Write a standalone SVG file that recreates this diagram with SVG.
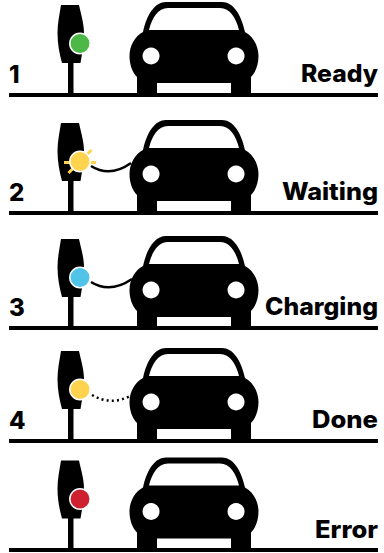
<svg xmlns="http://www.w3.org/2000/svg" width="384" height="553" viewBox="0 0 384 553">
<style>
.t{font-family:"Inter","Liberation Sans",sans-serif;font-weight:800;font-size:24px;fill:#000}
.l{fill:#000}
.d{stroke:#fff;stroke-width:1.5}
.c{fill:none;stroke:#000;stroke-width:2.5}
.r{stroke:#ffd34e;stroke-width:3;fill:none}
</style>
<defs>
<g id="station">
<path d="M61 5H79C81 14 84 24 84 33C84 44 82 54 80.500 63H62C59.500 54 57.500 44 57.500 33C57.500 24 59.500 14 61 5Z" fill="#000"/>
<rect x="68" y="62" width="5.500" height="32" fill="#000"/>
<path fill-rule="evenodd" fill="#000" d="M166 2H222C233 2 241 14 245 32C253 36 258.500 46 258.500 56C258.500 64 256 72 251 77V94H137V77C132 72 129.500 64 129.500 56C129.500 46 135 36 143 32C147 14 155 2 166 2ZM168 8C158 8 152 18 149 30H239C236 18 230 8 220 8ZM157 83V93H231V83ZM151 47.500A8.500 8.500 0 1 0 151.100 47.500ZM236 47.500A8.500 8.500 0 1 0 236.100 47.500Z"/>
</g>
</defs>
<g id="connectors">
<path class="c" d="M91 166Q110 178 131 163"/>
<path class="c" d="M91 282Q110 294 132 279"/>
<path class="c" d="M92 395Q111 406 130 396" stroke-dasharray="2 3.200"/>
</g>
<g id="row1"><use href="#station"/><rect class="l" x="9" y="93" width="369" height="4"/><circle class="d" cx="80" cy="43.500" r="10.200" fill="#4db848"/><text class="t" x="9" y="83">1</text><text class="t" x="301" y="82" textLength="77" lengthAdjust="spacingAndGlyphs">Ready</text></g>
<g id="row2"><use href="#station" y="118"/><rect class="l" x="9" y="211" width="369" height="4"/><path class="r" d="M64 162.500H96M68.500 173L91.500 150"/><circle class="d" cx="80" cy="161.500" r="10.200" fill="#ffd34e"/><text class="t" x="9" y="201">2</text><text class="t" x="282" y="200" textLength="96" lengthAdjust="spacingAndGlyphs">Waiting</text></g>
<g id="row3"><use href="#station" y="234"/><rect class="l" x="9" y="326" width="369" height="4"/><circle class="d" cx="80" cy="277.500" r="10.200" fill="#4fc3e8"/><text class="t" x="9" y="316">3</text><text class="t" x="265" y="315" textLength="113" lengthAdjust="spacingAndGlyphs">Charging</text></g>
<g id="row4"><use href="#station" y="346"/><rect class="l" x="9" y="439" width="369" height="4"/><circle class="d" cx="80" cy="389.500" r="10.200" fill="#ffd34e"/><text class="t" x="9" y="429">4</text><text class="t" x="312" y="428" textLength="66" lengthAdjust="spacingAndGlyphs">Done</text></g>
<g id="row5"><use href="#station" y="455.500"/><rect class="l" x="9" y="548" width="369" height="4"/><circle class="d" cx="80" cy="499" r="10.200" fill="#cf2030"/><text class="t" x="315" y="538" textLength="63" lengthAdjust="spacingAndGlyphs">Error</text></g>
</svg>
